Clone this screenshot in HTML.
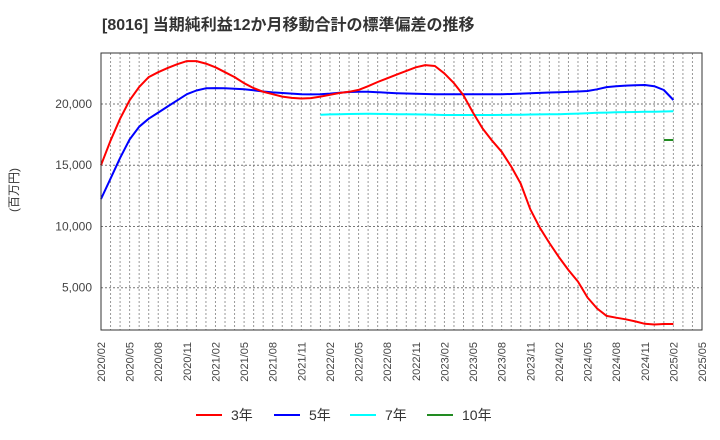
<!DOCTYPE html>
<html><head><meta charset="utf-8">
<style>
body{margin:0;background:#fff;}
svg{display:block;font-family:"Liberation Sans","Noto Sans CJK JP",sans-serif;}
</style></head>
<body>
<svg id="chart" width="720" height="440" viewBox="0 0 720 440">
<text x="102" y="30" font-size="16" font-weight="bold" fill="#333">[8016]  当期純利益12か月移動合計の標準偏差の推移</text>
<text transform="translate(18,190) rotate(-90)" text-anchor="middle" font-size="12" fill="#333">(百万円)</text>
<g id="grid"></g>
<g id="series"></g>
<rect x="101" y="53" width="601" height="277" fill="none" stroke="#333" stroke-width="1"/>
<g id="ticks"></g>
<g id="legend"></g>
</svg>
<script>
const months = 64;
const yTicks = [5000,10000,15000,20000];
const yTickLabels = ["5,000","10,000","15,000","20,000"];
const xTickLabels = ["2020/02","2020/05","2020/08","2020/11","2021/02","2021/05","2021/08","2021/11","2022/02","2022/05","2022/08","2022/11","2023/02","2023/05","2023/08","2023/11","2024/02","2024/05","2024/08","2024/11","2025/02","2025/05"];
const s3 = [15000,17000,18800,20300,21400,22200,22600,22950,23250,23500,23500,23300,23000,22600,22200,21700,21300,21000,20800,20600,20500,20450,20480,20600,20750,20900,21000,21150,21450,21800,22100,22400,22700,23000,23180,23100,22500,21700,20700,19300,18000,17000,16100,14900,13500,11400,9900,8650,7500,6450,5500,4200,3300,2700,2550,2420,2250,2050,2000,2040,2040];
const s5 = [12240,13900,15600,17100,18150,18800,19300,19800,20300,20800,21100,21280,21300,21280,21240,21200,21120,21020,20950,20900,20850,20800,20780,20800,20850,20920,20980,21000,21000,20960,20920,20880,20860,20840,20820,20800,20790,20790,20790,20790,20790,20790,20800,20820,20850,20880,20910,20940,20960,20990,21020,21060,21200,21380,21450,21500,21530,21550,21450,21140,20330];
const s7start = 23;
const s7 = [19130,19150,19160,19180,19190,19200,19190,19180,19170,19160,19150,19140,19120,19100,19100,19100,19100,19100,19100,19110,19120,19130,19140,19150,19160,19170,19190,19220,19250,19280,19300,19320,19340,19350,19360,19370,19390,19400];
const s10start = 59;
const s10 = [17060,17060];

const X0=101,X1=702,Y0=53,Y1=330,VMIN=1547,VMAX=24164;
const xs = i => X0 + (X1-X0)*i/63;
const ys = v => Y1 - (Y1-Y0)*(v-VMIN)/(VMAX-VMIN);
const NS="http://www.w3.org/2000/svg";
function mk(tag, attrs, parent){const e=document.createElementNS(NS,tag);for(const k in attrs)e.setAttribute(k,attrs[k]);parent.appendChild(e);return e;}
const grid=document.getElementById('grid'), ticks=document.getElementById('ticks'), series=document.getElementById('series'), legend=document.getElementById('legend');
for(let i=1;i<months;i++){
  const l=mk('line',{x1:xs(i),x2:xs(i),y1:Y0,y2:Y1,stroke:'#999','stroke-dasharray':'2,2','stroke-width':1},grid);
  
  
}
yTicks.forEach((v,k)=>{
  const l=mk('line',{x1:X0,x2:X1,y1:ys(v),y2:ys(v),stroke:'#777','stroke-dasharray':'2,2','stroke-width':1},grid);
  
  
  const t=mk('text',{x:92,y:ys(v)+4,'text-anchor':'end','font-size':12,fill:'#444'},ticks);
  t.textContent=yTickLabels[k];
  
  
});
xTickLabels.forEach((s,k)=>{
  const x=xs(k*3)+4;
  const t=mk('text',{transform:`translate(${x},342) rotate(-90)`,'text-anchor':'end','font-size':11,fill:'#444'},ticks);
  t.textContent=s;
  
  
});
function line(data,start,color,name){
  const pts=data.map((v,i)=>xs(start+i).toFixed(1)+','+ys(v).toFixed(1)).join(' ');
  const p=mk('polyline',{points:pts,fill:'none',stroke:color,'stroke-width':2,'stroke-linejoin':'round'},series);
  
  
}
line(s7,s7start,'#00ffff','series-7y');
line(s5,0,'#0000ff','series-5y');
line(s3,0,'#ff0000','series-3y');
line(s10,s10start,'#228b22','series-10y');
const leg=[['3年','#ff0000',196],['5年','#0000ff',274],['7年','#00ffff',350],['10年','#228b22',427]];
leg.forEach(([lab,c,x])=>{
  const g=mk('g',{},legend);
  
  
  mk('line',{x1:x,x2:x+26,y1:415,y2:415,stroke:c,'stroke-width':2},g);
  const t=mk('text',{x:x+35,y:420,'font-size':14,fill:'#333'},g);
  t.textContent=lab;
});
</script>
</body></html>
